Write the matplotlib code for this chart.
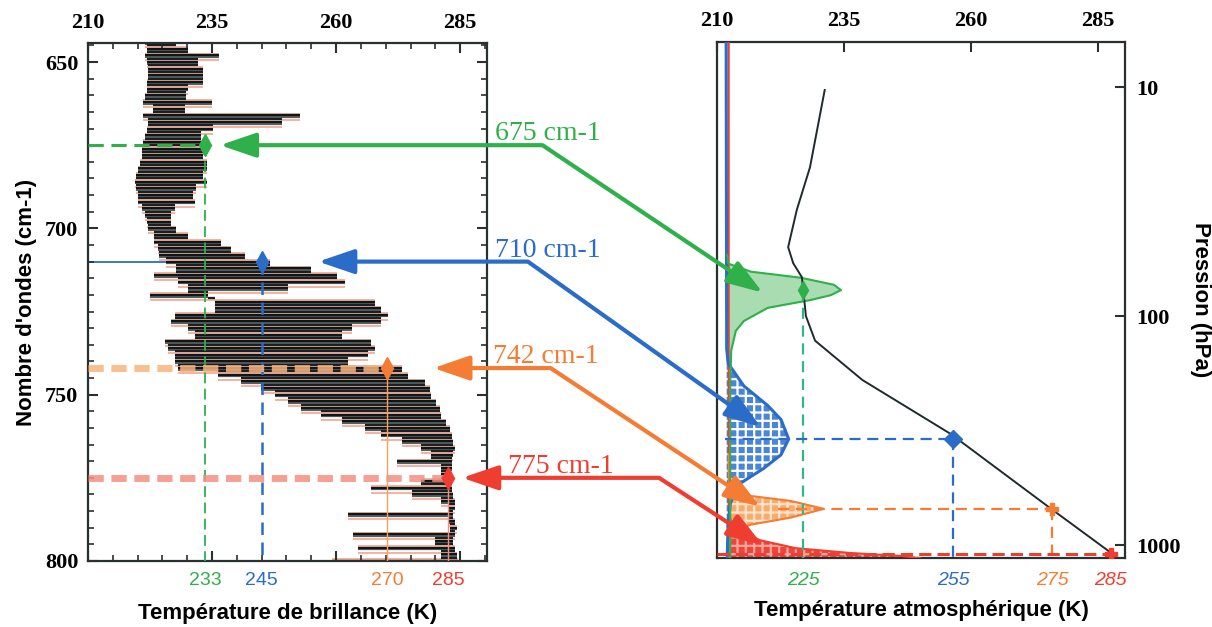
import numpy as np
import matplotlib
matplotlib.use("Agg")
import matplotlib.pyplot as plt
from matplotlib.patches import ConnectionPatch
from matplotlib.ticker import MultipleLocator, NullLocator

plt.rcParams['hatch.linewidth'] = 1.6

# ---- left panel : brightness temperature spectrum (troughs / peaks every 2 cm-1)
nu_nodes = np.arange(644, 801, 2)
tb_lo = [221.4, 221.8, 221.4, 221.8, 222.1, 222.1, 221.8, 221.8, 221.4, 221.1, 223.1, 221.1, 222.1, 221.8,
         221.4, 221.1, 220.8, 220.8, 220.4, 220.1, 219.7, 219.4, 219.7, 220.1, 220.1, 220.8, 221.4,
         221.8, 222.1, 223.4, 223.4, 224.1, 224.4, 225.8, 227.8, 223.4, 228.1, 230.2, 222.4, 235.5,
         235.5, 227.5, 226.8, 230.2, 231.5, 225.5, 226.1, 227.5, 227.5, 228.1, 236.2, 240.9, 244.9,
         247.6, 250.3, 253.0, 257.0, 261.1, 265.8, 269.1, 273.2, 277.2, 279.2, 272.2, 281.2, 281.2,
         277.2, 267.1, 275.2, 281.2, 282.6, 262.4, 282.6, 282.9, 263.4, 279.9, 264.4, 281.2, 259.1]
tb_hi = [227.8, 230.2, 236.5, 232.2, 233.2, 233.2, 233.2, 230.2, 229.8, 234.9, 229.5, 252.7, 249.0, 235.2,
         232.8, 232.8, 233.9, 233.2, 233.9, 233.9, 233.2, 233.9, 231.8, 231.2, 231.5, 227.5, 226.8,
         226.8, 227.8, 230.2, 236.9, 238.9, 241.6, 246.6, 255.0, 260.1, 261.7, 250.3, 234.2, 267.8,
         269.1, 270.5, 269.1, 263.1, 261.1, 267.1, 267.8, 266.5, 262.4, 273.2, 274.5, 277.9, 278.9,
         279.2, 280.2, 280.9, 281.2, 282.2, 282.9, 283.3, 283.6, 283.9, 283.6, 283.3, 283.3, 282.9,
         283.3, 283.3, 283.6, 283.9, 283.9, 283.6, 283.9, 284.3, 283.9, 283.6, 283.9, 284.3, 284.6]

# ---- right panel : atmospheric temperature profile
prof_p = [10.3, 22.4, 34.4, 50, 58.8, 67.6, 100, 128, 161, 190, 327, 687, 1070]
prof_T = [231.2, 228.3, 225.7, 224.0, 225.0, 226.7, 227.5, 229.3, 234.7, 238.6, 256.0, 275.5, 287.3]

# weighting functions (outer edge, K on the same axis)
green_p = [54, 59, 64, 68, 73, 77, 81, 85, 92, 105, 116, 141, 196, 1140]
green_T = [212.0, 212.2, 216.7, 226.5, 233.0, 234.4, 232.4, 228.5, 220.0, 215.3, 213.7, 212.8, 212.6, 212.6]
blue_p = [6.4, 139, 161, 202, 246, 283, 344, 403, 462, 511, 542, 598, 661, 800, 1140]
blue_T = [211.8, 211.9, 212.2, 215.3, 220.0, 222.6, 224.1, 222.6, 219.2, 216.1, 214.3, 213.3, 212.6, 212.2, 212.0]
orange_p = [400, 552, 580, 610, 641, 694, 758, 813, 863, 950, 1140]
orange_T = [212.3, 212.4, 213.3, 216.7, 224.5, 231.0, 224.5, 216.7, 213.3, 212.6, 212.4]
red_p = [6.4, 700, 782, 863, 953, 1031, 1082, 1114, 1140]
red_T = [212.3, 212.3, 212.7, 213.7, 218.6, 225.5, 236.3, 246.1, 250.0]

# ---- channels
channels = ["675 cm-1", "710 cm-1", "742 cm-1", "775 cm-1"]
chan_nu = [675, 710, 742, 775]
tb_marks = [233.6, 245.0, 270.3, 282.6]
tb_labels = ["233", "245", "270", "285"]
ta_marks = [227.0, 256.5, 276.0, 287.5]
ta_labels = ["225", "255", "275", "285"]
ta_p = [77, 344, 694, 1090]
# arrow ends
tip_left = [236.6, 256.4, 279.6, 285.4]
tip_right_T = [219.0, 218.6, 218.5, 219.0]
tip_right_p = [79, 305, 680, 1000]
tip_angle = [-33.8, -35.4, -33.5, -33.0]
text_T = [292.1, 292.1, 291.7, 294.6]

colors = ["#2fb04a", "#2a6cc8", "#f47c34", "#ef3d30"]
light = ["#a9dcb1", "#3f80d6", "#f8a764", "#ee3b30"]
hatchc = [None, "white", "#fde3cc", "#f6a59c"]

serif = "Liberation Serif"
sans = "Liberation Sans"
dark = "#2a2f30"

fig = plt.figure(figsize=(12.12, 6.27), dpi=100)
ax1 = fig.add_axes([0.0726, 0.1053, 0.3292, 0.826])
ax2 = fig.add_axes([0.5916, 0.110, 0.3366, 0.823])

# ================= left panel =================
# each absorption line drawn as a horizontal stroke, black / grey / salmon layers
lo = np.array(tb_lo)
hi = np.array(tb_hi)
ax1.hlines(nu_nodes, lo, hi, color="#101516", lw=1.6, zorder=2)
ax1.hlines(nu_nodes + 0.5, lo, hi, color="#55615f", lw=1.6, zorder=1)
ax1.hlines(nu_nodes[:-1] + 1.0, np.maximum(lo[:-1], lo[1:]), np.minimum(hi[:-1], hi[1:]),
           color="#1a2021", lw=1.6, zorder=2)
ax1.hlines(nu_nodes[:-1] + 1.5, np.minimum(lo[:-1], lo[1:]), np.maximum(hi[:-1], hi[1:]),
           color="#f19c88", lw=1.1, zorder=1)

# guide lines
ax1.plot([210, tb_marks[0]], [chan_nu[0]] * 2, color=colors[0], lw=2.2, ls=(0, (5, 2.5)), zorder=4)
ax1.plot([tb_marks[0]] * 2, [chan_nu[0], 800], color=colors[0], lw=1.3, ls=(0, (6, 3)), zorder=4)
ax1.plot([210, tb_marks[1]], [chan_nu[1]] * 2, color=colors[1], lw=1.3, zorder=0)
ax1.plot([tb_marks[1]] * 2, [chan_nu[1], 800], color=colors[1], lw=1.8, ls=(0, (5, 3)), zorder=4)
ax1.plot([210, tb_marks[2]], [chan_nu[2]] * 2, color="#f9b47c", lw=5, alpha=0.85, ls=(0, (2.2, 1.1)), zorder=4)
ax1.plot([tb_marks[2]] * 2, [chan_nu[2], 800], color="#f8a060", lw=1.0, zorder=4)
ax1.plot([210, tb_marks[3]], [chan_nu[3]] * 2, color="#f58f80", lw=5, alpha=0.85, ls=(0, (2.2, 1.1)), zorder=4)
ax1.plot([tb_marks[3]] * 2, [chan_nu[3], 800], color="#f58f80", lw=1.0, zorder=4)
for i in range(4):
    ax1.plot(tb_marks[i], chan_nu[i], marker="d", ms=11, color=colors[i], zorder=5)
    ax1.text(tb_marks[i], -0.037, tb_labels[i], transform=ax1.get_xaxis_transform(),
             ha="center", va="center", color=colors[i], fontsize=14, family=sans)

ax1.set_xlim(210, 290.4)
ax1.set_ylim(800, 644.3)
ax1.set_xticks([210, 235, 260, 285])
ax1.xaxis.set_minor_locator(MultipleLocator(5))
ax1.set_yticks([650, 700, 750, 800])
ax1.yaxis.set_minor_locator(MultipleLocator(5))
ax1.tick_params(which="both", direction="in", top=True, bottom=True, left=True, right=True,
                labeltop=True, labelbottom=False, color=dark)
ax1.tick_params(which="major", length=7, width=1.5, pad=7)
ax1.tick_params(which="minor", length=4, width=1.2)
for lab in ax1.get_xticklabels() + ax1.get_yticklabels():
    lab.set_family(serif)
    lab.set_weight("bold")
    lab.set_fontsize(16)
ax1.set_xlabel("Température de brillance (K)", family=sans, weight="bold", fontsize=16, labelpad=30)
ax1.set_ylabel("Nombre d'ondes (cm-1)", family=sans, weight="bold", fontsize=16, labelpad=6)

# ================= right panel =================
ax2.set_yscale("log")
wf = [(green_p, green_T, 212.2), (blue_p, blue_T, 211.8), (orange_p, orange_T, 212.3), (red_p, red_T, 212.3)]
for i in [3, 2, 1, 0]:
    pp, tt, base = wf[i]
    ax2.fill_betweenx(pp, base, tt, color=light[i], lw=0, alpha=0.95 if i else 1, zorder=2)
    if hatchc[i]:
        ax2.fill_betweenx(pp, base, tt, facecolor="none", edgecolor=hatchc[i], hatch="++", lw=0, zorder=2)
    ax2.plot(tt, pp, color=colors[i], lw=1.5 if i != 1 else 2.2, zorder=3)

ax2.plot(prof_T, prof_p, color="#1f2a2c", lw=1.4, zorder=4)

ax2.plot([ta_marks[0]] * 2, [ta_p[0], 1140], color="#35b38a", lw=1.6, ls=(0, (5, 3)), zorder=5)
ax2.plot([211.5, ta_marks[1]], [ta_p[1]] * 2, color=colors[1], lw=1.6, ls=(0, (5, 3)), zorder=5)
ax2.plot([ta_marks[1]] * 2, [ta_p[1], 1140], color=colors[1], lw=1.6, ls=(0, (5, 3)), zorder=5)
ax2.plot([222, ta_marks[2]], [ta_p[2]] * 2, color=colors[2], lw=1.6, ls=(0, (5, 3)), zorder=5)
ax2.plot([ta_marks[2]] * 2, [ta_p[2], 1140], color=colors[2], lw=1.6, ls=(0, (5, 3)), zorder=5)
ax2.plot([210, ta_marks[3]], [ta_p[3]] * 2, color=colors[3], lw=2.2, ls=(0, (4, 2)), zorder=5)
mk = ["d", "D", "P", "P"]
for i in range(4):
    ax2.plot(ta_marks[i], ta_p[i], marker=mk[i], ms=9, color=colors[i], zorder=6)
    ax2.text(ta_marks[i], -0.043, ta_labels[i], transform=ax2.get_xaxis_transform(),
             ha="center", va="center", color=colors[i], fontsize=14, family=sans, style="italic")

ax2.set_xlim(210, 290.3)
ax2.set_ylim(1138, 6.36)
ax2.set_xticks([210, 235, 260, 285])
ax2.set_yticks([10, 100, 1000])
ax2.set_yticklabels(["10", "100", "1000"])
ax2.yaxis.set_minor_locator(NullLocator())
ax2.tick_params(which="both", direction="in", top=True, bottom=False, left=False, right=True,
                labeltop=True, labelbottom=False, labelleft=False, labelright=True,
                length=7, width=1.5, pad=8, color=dark)
for lab in ax2.get_xticklabels() + ax2.get_yticklabels():
    lab.set_family(serif)
    lab.set_weight("bold")
    lab.set_fontsize(16)
ax2.set_xlabel("Température atmosphérique (K)", family=sans, weight="bold", fontsize=16, labelpad=30)
ax2.yaxis.set_label_position("right")
ax2.set_ylabel("Pression (hPa)", family=sans, weight="bold", fontsize=16, rotation=270, labelpad=22)

for ax in (ax1, ax2):
    for s in ax.spines.values():
        s.set_color(dark)
        s.set_linewidth(1.6)

# ================= arrows between the panels =================
for i in range(4):
    con = ConnectionPatch(xyA=(tip_left[i], chan_nu[i]), coordsA=ax1.transData,
                          xyB=(tip_right_T[i], tip_right_p[i]), coordsB=ax2.transData,
                          arrowstyle="<|-|>,head_length=2.2,head_width=0.75",
                          connectionstyle="angle,angleA=0,angleB=%g,rad=0" % tip_angle[i],
                          color=colors[i], lw=3, mutation_scale=10, zorder=10)
    fig.add_artist(con)
    ax1.text(text_T[i], chan_nu[i] - 1.5, channels[i], color=colors[i], fontsize=20, family=serif,
             ha="left", va="baseline", clip_on=False)

fig.savefig("out.png", dpi=100)
